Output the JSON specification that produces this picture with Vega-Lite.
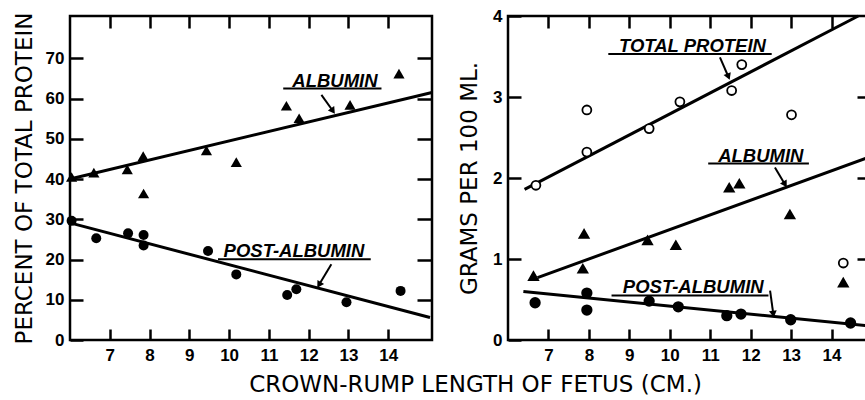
{
  "$schema": "https://vega.github.io/schema/vega-lite/v6.json",
  "background": "white",
  "padding": {"left": 11, "top": 5, "right": 0, "bottom": 0},
  "title": {"text": "CROWN-RUMP LENGTH OF FETUS (CM.)", "orient": "bottom", "anchor": "middle", "font": "DejaVu Sans", "fontSize": 23, "fontWeight": "normal", "color": "black", "offset": 10, "dx": 30},
  "resolve": {"scale": {"x": "independent", "y": "independent", "shape": "independent", "size": "independent", "fill": "independent"}},
  "config": {
    "view": {"stroke": "black", "strokeWidth": 2.5},
    "concat": {"spacing": 17},
    "axis": {"domain": false, "grid": false, "tickColor": "black", "tickWidth": 2.5, "labelFont": "Liberation Sans", "labelFontWeight": "bold", "labelFontSize": 17, "labelColor": "black", "titleFont": "DejaVu Sans", "titleFontWeight": "normal", "titleFontSize": 23, "titleColor": "black"}
  },
  "datasets": {
    "pct": [
      {"fraction": "Albumin", "length": 6.04, "percent": 40.5},
      {"fraction": "Albumin", "length": 6.60, "percent": 41.6},
      {"fraction": "Albumin", "length": 7.44, "percent": 42.4},
      {"fraction": "Albumin", "length": 7.84, "percent": 45.7},
      {"fraction": "Albumin", "length": 7.85, "percent": 36.4},
      {"fraction": "Albumin", "length": 9.43, "percent": 47.1},
      {"fraction": "Albumin", "length": 10.18, "percent": 44.2},
      {"fraction": "Albumin", "length": 11.44, "percent": 58.2},
      {"fraction": "Albumin", "length": 11.76, "percent": 55.1},
      {"fraction": "Albumin", "length": 13.04, "percent": 58.4},
      {"fraction": "Albumin", "length": 14.27, "percent": 66.2},
      {"fraction": "Post-albumin", "length": 6.04, "percent": 29.6},
      {"fraction": "Post-albumin", "length": 6.66, "percent": 25.3},
      {"fraction": "Post-albumin", "length": 7.46, "percent": 26.5},
      {"fraction": "Post-albumin", "length": 7.85, "percent": 26.1},
      {"fraction": "Post-albumin", "length": 7.85, "percent": 23.5},
      {"fraction": "Post-albumin", "length": 9.47, "percent": 22.1},
      {"fraction": "Post-albumin", "length": 10.18, "percent": 16.3},
      {"fraction": "Post-albumin", "length": 11.46, "percent": 11.2},
      {"fraction": "Post-albumin", "length": 11.69, "percent": 12.6},
      {"fraction": "Post-albumin", "length": 12.95, "percent": 9.4},
      {"fraction": "Post-albumin", "length": 14.31, "percent": 12.2}
    ],
    "gm": [
      {"fraction": "Total protein", "length": 6.69, "grams": 1.91},
      {"fraction": "Total protein", "length": 7.95, "grams": 2.84},
      {"fraction": "Total protein", "length": 7.95, "grams": 2.32},
      {"fraction": "Total protein", "length": 9.49, "grams": 2.61},
      {"fraction": "Total protein", "length": 10.25, "grams": 2.94},
      {"fraction": "Total protein", "length": 11.53, "grams": 3.08},
      {"fraction": "Total protein", "length": 11.78, "grams": 3.40},
      {"fraction": "Total protein", "length": 13.01, "grams": 2.78},
      {"fraction": "Total protein", "length": 14.29, "grams": 0.95},
      {"fraction": "Albumin", "length": 6.63, "grams": 0.79},
      {"fraction": "Albumin", "length": 7.88, "grams": 1.31},
      {"fraction": "Albumin", "length": 7.85, "grams": 0.88},
      {"fraction": "Albumin", "length": 9.45, "grams": 1.23},
      {"fraction": "Albumin", "length": 10.15, "grams": 1.17},
      {"fraction": "Albumin", "length": 11.47, "grams": 1.88},
      {"fraction": "Albumin", "length": 11.72, "grams": 1.93},
      {"fraction": "Albumin", "length": 12.97, "grams": 1.55},
      {"fraction": "Albumin", "length": 14.29, "grams": 0.71},
      {"fraction": "Post-albumin", "length": 6.67, "grams": 0.46},
      {"fraction": "Post-albumin", "length": 7.95, "grams": 0.58},
      {"fraction": "Post-albumin", "length": 7.95, "grams": 0.37},
      {"fraction": "Post-albumin", "length": 9.49, "grams": 0.48},
      {"fraction": "Post-albumin", "length": 10.21, "grams": 0.41},
      {"fraction": "Post-albumin", "length": 11.41, "grams": 0.30},
      {"fraction": "Post-albumin", "length": 11.76, "grams": 0.32},
      {"fraction": "Post-albumin", "length": 12.99, "grams": 0.25},
      {"fraction": "Post-albumin", "length": 14.47, "grams": 0.21}
    ],
    "fits": [
      {"panel": "pct", "fraction": "Albumin", "length": 6.0, "value": 40.0},
      {"panel": "pct", "fraction": "Albumin", "length": 15.1, "value": 61.5},
      {"panel": "pct", "fraction": "Post-albumin", "length": 6.0, "value": 29.1},
      {"panel": "pct", "fraction": "Post-albumin", "length": 15.05, "value": 5.6},
      {"panel": "gm", "fraction": "Total protein", "length": 6.41, "value": 1.86},
      {"panel": "gm", "fraction": "Total protein", "length": 14.66, "value": 4.0},
      {"panel": "gm", "fraction": "Albumin", "length": 6.73, "value": 0.77},
      {"panel": "gm", "fraction": "Albumin", "length": 15.0, "value": 2.27},
      {"panel": "gm", "fraction": "Post-albumin", "length": 6.38, "value": 0.60},
      {"panel": "gm", "fraction": "Post-albumin", "length": 15.0, "value": 0.17}
    ],
    "notes": [
      {"panel": "pct", "label": "ALBUMIN", "tx": 12.66, "ty": 64.3, "ux1": 11.36, "ux2": 13.83, "uy": 62.5, "ax1": 12.32, "ay1": 60.9, "ax2": 12.61, "ay2": 56.9},
      {"panel": "pct", "label": "POST-ALBUMIN", "tx": 11.63, "ty": 22.1, "ux1": 9.72, "ux2": 13.56, "uy": 20.05, "ax1": 12.57, "ay1": 18.8, "ax2": 12.26, "ay2": 13.7},
      {"panel": "gm", "label": "TOTAL PROTEIN", "tx": 10.56, "ty": 3.63, "ux1": 8.48, "ux2": 12.52, "uy": 3.53, "ax1": 11.24, "ay1": 3.49, "ax2": 11.45, "ay2": 3.25},
      {"panel": "gm", "label": "ALBUMIN", "tx": 12.25, "ty": 2.27, "ux1": 10.95, "ux2": 13.44, "uy": 2.18, "ax1": 12.60, "ay1": 2.13, "ax2": 12.85, "ay2": 1.92},
      {"panel": "gm", "label": "POST-ALBUMIN", "tx": 10.58, "ty": 0.65, "ux1": 8.56, "ux2": 12.44, "uy": 0.55, "ax1": 12.48, "ay1": 0.61, "ax2": 12.56, "ay2": 0.32}
    ]
  },
  "hconcat": [
    {
      "width": 362,
      "height": 324,
      "resolve": {"axis": {"x": "independent", "y": "independent"}},
      "layer": [
        {
          "data": {"name": "fits"},
          "transform": [{"filter": "datum.panel === 'pct'"}],
          "mark": {"type": "line", "color": "black", "strokeWidth": 3},
          "encoding": {
            "x": {"field": "length", "type": "quantitative", "scale": {"domain": [6, 15.1], "nice": false, "zero": false}, "axis": {"orient": "top", "labels": false, "title": null, "values": [7, 8, 9, 10, 11, 12, 13, 14], "tickSize": -12}},
            "y": {"field": "value", "type": "quantitative", "scale": {"domain": [0, 80.5], "nice": false}, "axis": {"orient": "right", "labels": false, "title": null, "values": [10, 20, 30, 40, 50, 60, 70], "tickSize": -15}},
            "detail": {"field": "fraction"}
          }
        },
        {
          "data": {"name": "pct"},
          "mark": {"type": "point", "filled": true, "color": "black", "opacity": 1},
          "encoding": {
            "x": {"field": "length", "type": "quantitative", "axis": {"orient": "bottom", "title": null, "values": [7, 8, 9, 10, 11, 12, 13, 14], "tickSize": -11, "labelPadding": 18}},
            "y": {"field": "percent", "type": "quantitative", "axis": {"orient": "left", "title": "PERCENT OF TOTAL PROTEIN", "values": [0, 10, 20, 30, 40, 50, 60, 70], "tickSize": -13, "labelPadding": 19, "titlePadding": 9}},
            "shape": {"field": "fraction", "type": "nominal", "scale": {"domain": ["Albumin", "Post-albumin"], "range": ["triangle-up", "circle"]}, "legend": null},
            "size": {"field": "fraction", "type": "nominal", "scale": {"domain": ["Albumin", "Post-albumin"], "range": [125, 100]}, "legend": null}
          }
        },
        {
          "data": {"name": "notes"},
          "transform": [{"filter": "datum.panel === 'pct'"}],
          "mark": {"type": "rule", "color": "black", "strokeWidth": 2},
          "encoding": {
            "x": {"field": "ux1", "type": "quantitative", "axis": null},
            "x2": {"field": "ux2"},
            "y": {"field": "uy", "type": "quantitative", "axis": null}
          }
        },
        {
          "data": {"name": "notes"},
          "transform": [{"filter": "datum.panel === 'pct'"}],
          "mark": {"type": "text", "font": "Liberation Sans", "fontStyle": "italic", "fontWeight": "bold", "fontSize": 18.5, "color": "black", "baseline": "middle", "align": "center"},
          "encoding": {
            "x": {"field": "tx", "type": "quantitative", "axis": null},
            "y": {"field": "ty", "type": "quantitative", "axis": null},
            "text": {"field": "label"}
          }
        },
        {
          "data": {"name": "notes"},
          "transform": [{"filter": "datum.panel === 'pct'"}],
          "mark": {"type": "rule", "color": "black", "strokeWidth": 2},
          "encoding": {
            "x": {"field": "ax1", "type": "quantitative", "axis": null},
            "y": {"field": "ay1", "type": "quantitative", "axis": null},
            "x2": {"field": "ax2"},
            "y2": {"field": "ay2"}
          }
        },
        {
          "data": {"name": "notes"},
          "transform": [{"filter": "datum.label === 'ALBUMIN' && datum.panel === 'pct'"}],
          "mark": {"type": "point", "shape": "triangle-down", "filled": true, "color": "black", "opacity": 1, "size": 60, "angle": -35},
          "encoding": {
            "x": {"field": "ax2", "type": "quantitative", "axis": null},
            "y": {"field": "ay2", "type": "quantitative", "axis": null}
          }
        },
        {
          "data": {"name": "notes"},
          "transform": [{"filter": "datum.label === 'POST-ALBUMIN' && datum.panel === 'pct'"}],
          "mark": {"type": "point", "shape": "triangle-down", "filled": true, "color": "black", "opacity": 1, "size": 60, "angle": 31},
          "encoding": {
            "x": {"field": "ax2", "type": "quantitative", "axis": null},
            "y": {"field": "ay2", "type": "quantitative", "axis": null}
          }
        }
      ]
    },
    {
      "width": 364,
      "height": 324,
      "resolve": {"axis": {"x": "independent", "y": "independent"}},
      "layer": [
        {
          "data": {"name": "fits"},
          "transform": [{"filter": "datum.panel === 'gm'"}],
          "mark": {"type": "line", "color": "black", "strokeWidth": 3},
          "encoding": {
            "x": {"field": "length", "type": "quantitative", "scale": {"domain": [6, 15], "nice": false, "zero": false}, "axis": {"orient": "top", "labels": false, "title": null, "values": [7, 8, 9, 10, 11, 12, 13, 14], "tickSize": -12}},
            "y": {"field": "value", "type": "quantitative", "scale": {"domain": [0, 4], "nice": false}, "axis": {"orient": "right", "labels": false, "title": null, "values": [1, 2, 3], "tickSize": -15}},
            "detail": {"field": "fraction"}
          }
        },
        {
          "data": {"name": "gm"},
          "mark": {"type": "point", "filled": true, "stroke": "black", "strokeWidth": 1.8, "opacity": 1},
          "encoding": {
            "x": {"field": "length", "type": "quantitative", "axis": {"orient": "bottom", "title": null, "values": [7, 8, 9, 10, 11, 12, 13, 14], "tickSize": -11, "labelPadding": 18}},
            "y": {"field": "grams", "type": "quantitative", "axis": {"orient": "left", "title": "GRAMS PER 100 ML.", "values": [0, 1, 2, 3, 4], "tickSize": -13, "labelPadding": 19, "titlePadding": 11}},
            "shape": {"field": "fraction", "type": "nominal", "scale": {"domain": ["Total protein", "Albumin", "Post-albumin"], "range": ["circle", "triangle-up", "circle"]}, "legend": null},
            "fill": {"field": "fraction", "type": "nominal", "scale": {"domain": ["Total protein", "Albumin", "Post-albumin"], "range": ["white", "black", "black"]}, "legend": null},
            "size": {"field": "fraction", "type": "nominal", "scale": {"domain": ["Total protein", "Albumin", "Post-albumin"], "range": [80, 90, 70]}, "legend": null}
          }
        },
        {
          "data": {"name": "notes"},
          "transform": [{"filter": "datum.panel === 'gm'"}],
          "mark": {"type": "rule", "color": "black", "strokeWidth": 2},
          "encoding": {
            "x": {"field": "ux1", "type": "quantitative", "axis": null},
            "x2": {"field": "ux2"},
            "y": {"field": "uy", "type": "quantitative", "axis": null}
          }
        },
        {
          "data": {"name": "notes"},
          "transform": [{"filter": "datum.panel === 'gm'"}],
          "mark": {"type": "text", "font": "Liberation Sans", "fontStyle": "italic", "fontWeight": "bold", "fontSize": 18.5, "color": "black", "baseline": "middle", "align": "center"},
          "encoding": {
            "x": {"field": "tx", "type": "quantitative", "axis": null},
            "y": {"field": "ty", "type": "quantitative", "axis": null},
            "text": {"field": "label"}
          }
        },
        {
          "data": {"name": "notes"},
          "transform": [{"filter": "datum.panel === 'gm'"}],
          "mark": {"type": "rule", "color": "black", "strokeWidth": 2},
          "encoding": {
            "x": {"field": "ax1", "type": "quantitative", "axis": null},
            "y": {"field": "ay1", "type": "quantitative", "axis": null},
            "x2": {"field": "ax2"},
            "y2": {"field": "ay2"}
          }
        },
        {
          "data": {"name": "notes"},
          "transform": [{"filter": "datum.label === 'TOTAL PROTEIN' && datum.panel === 'gm'"}],
          "mark": {"type": "point", "shape": "triangle-down", "filled": true, "color": "black", "opacity": 1, "size": 60, "angle": -22},
          "encoding": {
            "x": {"field": "ax2", "type": "quantitative", "axis": null},
            "y": {"field": "ay2", "type": "quantitative", "axis": null}
          }
        },
        {
          "data": {"name": "notes"},
          "transform": [{"filter": "datum.label === 'ALBUMIN' && datum.panel === 'gm'"}],
          "mark": {"type": "point", "shape": "triangle-down", "filled": true, "color": "black", "opacity": 1, "size": 60, "angle": -31},
          "encoding": {
            "x": {"field": "ax2", "type": "quantitative", "axis": null},
            "y": {"field": "ay2", "type": "quantitative", "axis": null}
          }
        },
        {
          "data": {"name": "notes"},
          "transform": [{"filter": "datum.label === 'POST-ALBUMIN' && datum.panel === 'gm'"}],
          "mark": {"type": "point", "shape": "triangle-down", "filled": true, "color": "black", "opacity": 1, "size": 60, "angle": -8},
          "encoding": {
            "x": {"field": "ax2", "type": "quantitative", "axis": null},
            "y": {"field": "ay2", "type": "quantitative", "axis": null}
          }
        }
      ]
    }
  ]
}
